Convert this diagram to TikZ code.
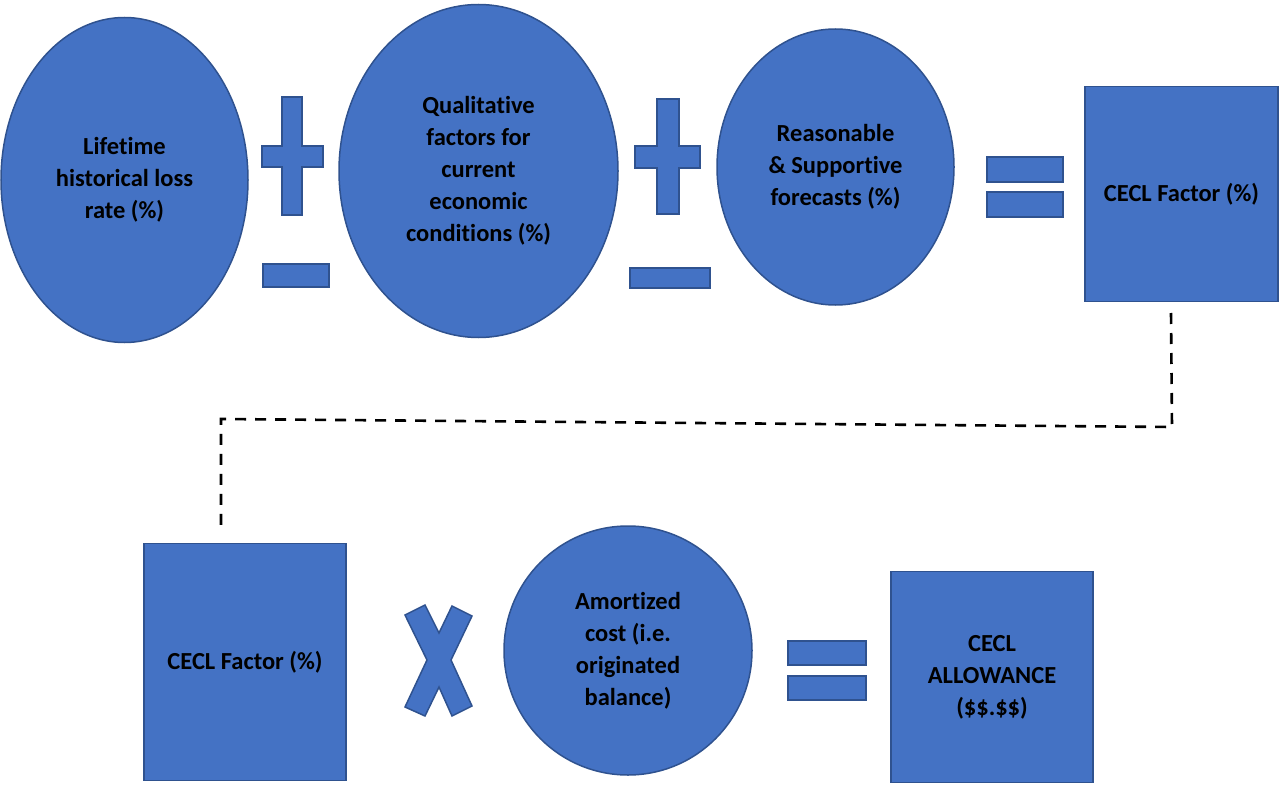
\documentclass[tikz,border=0pt]{standalone}
\usepackage{fontspec}
\setmainfont{Carlito}[Ligatures={NoCommon}]
\usetikzlibrary{shapes.geometric}
\definecolor{fillblue}{HTML}{4472C4}
\definecolor{edgeblue}{HTML}{2F528F}
\begin{document}
\begin{tikzpicture}[x=1pt,y=-1pt,
  shapebase/.style={fill=fillblue,draw=edgeblue,line width=1.5pt},
  lbl/.style={align=center,font=\bfseries\fontsize{24.5}{32}\selectfont,inner sep=0pt},
  oval/.style={shapebase,lbl,ellipse},
  box/.style={shapebase,lbl,rectangle},
  sym/.style={shapebase},
  conn/.style={line width=2.6pt,dash pattern=on 11pt off 9pt,black}]
\useasboundingbox (0,0) rectangle (1280,789);

% top row
\node[oval,minimum width=247pt,minimum height=325pt] (e1) at (124.5,180) {Lifetime\\historical loss\\rate (\%)};
\node[oval,minimum width=279pt,minimum height=333pt] (e2) at (478.5,171) {Qualitative\\factors for\\current\\economic\\conditions (\%)};
\node[oval,minimum width=237pt,minimum height=276pt] (e3) at (835.5,167) {Reasonable\\\& Supportive\\forecasts (\%)};
\node[box,minimum width=193pt,minimum height=215pt] (r1) at (1181.5,194) {CECL Factor (\%)};

% bottom row
\node[box,minimum width=202pt,minimum height=237pt] (r2) at (245,662) {CECL Factor (\%)};
\node[oval,minimum width=248pt,minimum height=249pt] (e4) at (628,650.5) {Amortized\\cost (i.e.\\originated\\balance)};
\node[box,minimum width=202pt,minimum height=211pt] (r3) at (992,677) {CECL\\ALLOWANCE\\(\$\$.\$\$)};

% plus / minus 1
\draw[sym] (282,97) -- (302,97) -- (302,146) -- (323,146) -- (323,167) -- (302,167) -- (302,215) -- (282,215) -- (282,167) -- (262,167) -- (262,146) -- (282,146) -- cycle;
\draw[sym] (263,264) rectangle (329,287);
% plus / minus 2
\draw[sym] (657,99) -- (679,99) -- (679,146) -- (700,146) -- (700,168) -- (679,168) -- (679,214) -- (657,214) -- (657,168) -- (635,168) -- (635,146) -- (657,146) -- cycle;
\draw[sym] (630,268) rectangle (710,288);
% equals 1
\draw[sym] (987,157) rectangle (1063,182);
\draw[sym] (987,192) rectangle (1063,217);
% times
\draw[sym] (405,615) -- (425,605) -- (439,633) -- (452,606) -- (472,616) -- (451,660) -- (472,706) -- (452,716) -- (439,687) -- (425,716) -- (405,707) -- (427,660) -- cycle;
% equals 2
\draw[sym] (788,641) rectangle (866,665);
\draw[sym] (788,676) rectangle (866,700);

% dashed connector
\coordinate (c1) at (1171,313);
\coordinate (c2) at (1172,427);
\coordinate (c3) at (221,419);
\coordinate (c4) at (221,527);
\draw[conn] (c1) -- (c2) -- (c3) -- (c4);
\end{tikzpicture}
\end{document}
